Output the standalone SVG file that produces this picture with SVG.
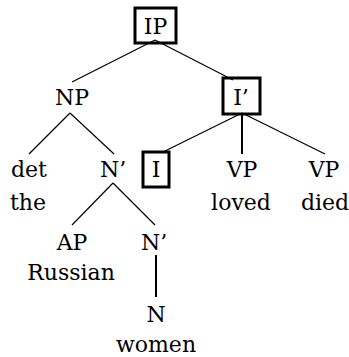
<svg xmlns="http://www.w3.org/2000/svg" width="349" height="357" viewBox="0 0 349 357">
  <style>
    .lbl { font-family: "DejaVu Serif", "Liberation Serif", serif; font-size: 22px; fill: #000; text-anchor: middle; }
    .edge { stroke: #000; stroke-width: 1.2; fill: none; }
    .edge.heavy { stroke-width: 2; }
    .box { fill: none; stroke: #000; stroke-width: 3; }
  </style>
  <rect width="349" height="357" fill="#fff"/>
  <g id="connectors">
    <line class="edge" x1="155" y1="40" x2="72" y2="82"/>
    <line class="edge" x1="155" y1="40" x2="233" y2="80"/>
    <line class="edge" x1="70" y1="113" x2="29" y2="154"/>
    <line class="edge" x1="70" y1="113" x2="114" y2="154"/>
    <line class="edge" x1="242" y1="113" x2="163" y2="152"/>
    <line class="edge heavy" x1="242" y1="113" x2="242" y2="154"/>
    <line class="edge" x1="242" y1="113" x2="325" y2="154"/>
    <line class="edge" x1="113" y1="183" x2="72" y2="225"/>
    <line class="edge" x1="113" y1="183" x2="155" y2="225"/>
    <line class="edge heavy" x1="156" y1="255" x2="156" y2="297"/>
  </g>
  <g id="IP">
    <rect class="box" x="135" y="8" width="41" height="35"/>
    <text class="lbl" x="155.5" y="34">IP</text>
  </g>
  <g id="NP">
    <text class="lbl" x="72" y="105">NP</text>
  </g>
  <g id="Ibar">
    <rect class="box" x="223" y="78" width="37" height="36"/>
    <text class="lbl" x="241" y="105">I’</text>
  </g>
  <g id="det">
    <text class="lbl" x="29" y="177">det</text>
    <text class="lbl" x="28" y="210">the</text>
  </g>
  <g id="Nbar1">
    <text class="lbl" x="113" y="177">N’</text>
  </g>
  <g id="I">
    <rect class="box" x="143" y="152" width="26" height="35"/>
    <text class="lbl" x="156" y="177">I</text>
  </g>
  <g id="VP1">
    <text class="lbl" x="242" y="177">VP</text>
    <text class="lbl" x="241" y="210">loved</text>
  </g>
  <g id="VP2">
    <text class="lbl" x="324" y="177">VP</text>
    <text class="lbl" x="325" y="210">died</text>
  </g>
  <g id="AP">
    <text class="lbl" x="72" y="250">AP</text>
    <text class="lbl" x="71" y="280">Russian</text>
  </g>
  <g id="Nbar2">
    <text class="lbl" x="154" y="250">N’</text>
  </g>
  <g id="N">
    <text class="lbl" x="156" y="322">N</text>
    <text class="lbl" x="156" y="352">women</text>
  </g>
</svg>
